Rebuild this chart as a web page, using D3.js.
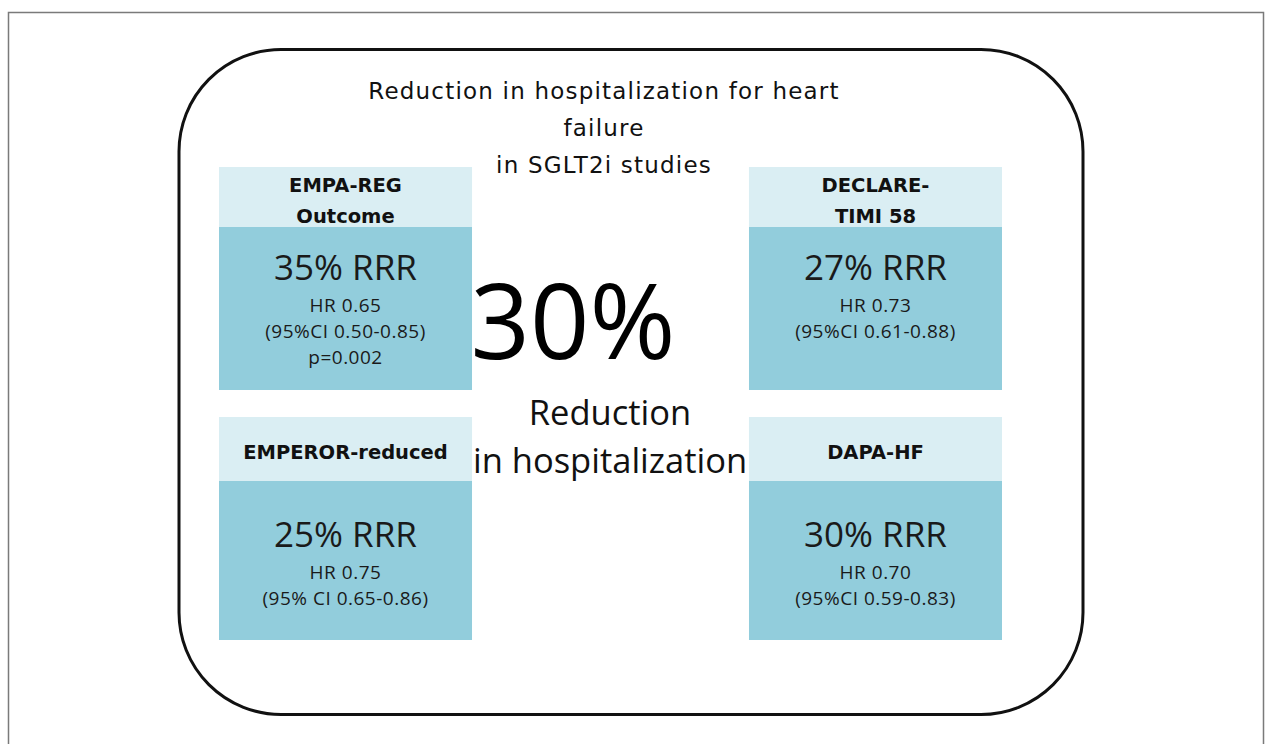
<!DOCTYPE html>
<html>
<head>
<meta charset="utf-8">
<script src="https://cdn.jsdelivr.net/npm/d3@7"></script>
<style>
html,body{margin:0;padding:0;background:#fff;}
svg{display:block;}
</style>
</head>
<body>
<svg id="chart" width="1269" height="744"></svg>
<script>
// ---- data ----
const titleLines = ["Reduction in hospitalization for heart", "failure", "in SGLT2i studies"];
const studyNames = [["EMPA-REG", "Outcome"], ["DECLARE-", "TIMI 58"], ["EMPEROR-reduced"], ["DAPA-HF"]];
const rrrValues = [35, 27, 25, 30];
const hrValues = ["0.65", "0.73", "0.75", "0.70"];
const ciValues = ["(95%CI 0.50-0.85)", "(95%CI 0.61-0.88)", "(95% CI 0.65-0.86)", "(95%CI 0.59-0.83)"];
const pValues = ["p=0.002", null, null, null];
const pooledReduction = 30;
const pooledLabel = ["Reduction", "in hospitalization"];

// ---- layout ----
const svg = d3.select("#chart");
const W = 1269, H = 744;

// outer gray frame (open at bottom)
svg.append("path")
  .attr("d", `M8.5,${H+2} L8.5,12.5 L1263.5,12.5 L1263.5,${H+2}`)
  .attr("fill", "none").attr("stroke", "#7a7a7a").attr("stroke-width", 1.5);

// rounded container
svg.append("rect")
  .attr("x", 179).attr("y", 49.5).attr("width", 904).attr("height", 665)
  .attr("rx", 102).attr("ry", 102)
  .attr("fill", "#fff").attr("stroke", "#111").attr("stroke-width", 3);

// title
const titleY = d3.scaleLinear().domain([0, 1]).range([99, 136]);
svg.append("g").selectAll("text").data(titleLines).join("text")
  .attr("x", 604).attr("y", (d, i) => titleY(i))
  .attr("text-anchor", "middle")
  .attr("font-family", "DejaVu Sans").attr("font-size", 23)
  .attr("letter-spacing", 1.2)
  .attr("fill", "#111").text(d => d);

// grid of study boxes
const idx = d3.range(studyNames.length);
const col = d3.scaleBand().domain([0, 1]).range([219, 1002]).paddingInner(0.5226);
const row = d3.scaleBand().domain([0, 1]).range([167, 640]).paddingInner(0.108);
const headerH = [60, 64];
const rrrOffset = [53, 66];

const boxes = svg.append("g").selectAll("g").data(idx).join("g")
  .attr("transform", i => `translate(${col(i % 2)},${row(Math.floor(i / 2))})`);

boxes.append("rect")
  .attr("width", col.bandwidth()).attr("height", row.bandwidth())
  .attr("fill", "#92cddc");
boxes.append("rect")
  .attr("width", col.bandwidth()).attr("height", i => headerH[Math.floor(i / 2)])
  .attr("fill", "#daeef3");

const cx = col.bandwidth() / 2;

boxes.each(function (i) {
  const g = d3.select(this);
  const lines = studyNames[i];
  const r = Math.floor(i / 2);
  const hh = headerH[r];
  const lh = 31;
  const first = hh / 2 + 10 - (lines.length - 1) * lh / 2;
  g.selectAll("text.h").data(lines).join("text").attr("class", "h")
    .attr("x", cx).attr("y", (d, k) => first + k * lh)
    .attr("text-anchor", "middle")
    .attr("font-family", "DejaVu Sans").attr("font-weight", "bold")
    .attr("font-size", 19.5).attr("fill", "#111").text(d => d);

  const body = [
    { t: rrrValues[i] + "% RRR", s: 35, dy: 0 },
    { t: "HR " + hrValues[i], s: 19, dy: 32 },
    { t: ciValues[i], s: 19, dy: 58 }
  ];
  if (pValues[i]) body.push({ t: pValues[i], s: 19, dy: 84 });
  const base = hh + rrrOffset[r];
  g.selectAll("text.b").data(body).join("text").attr("class", "b")
    .attr("x", cx).attr("y", d => base + d.dy)
    .attr("text-anchor", "middle")
    .attr("font-family", "Open Sans")
    .attr("font-size", d => d.s)
    .attr("letter-spacing", d => d.s < 25 ? 0.5 : 0)
    .attr("fill", "#1a1a1a").text(d => d.t);
});

// center big figure
svg.append("text")
  .attr("x", 573).attr("y", 359)
  .attr("text-anchor", "middle")
  .attr("font-family", "Open Sans").attr("font-size", 104)
  .attr("fill", "#000").text(pooledReduction + "%");

svg.append("g").selectAll("text").data(pooledLabel).join("text")
  .attr("x", 610).attr("y", (d, i) => 425 + i * 48)
  .attr("text-anchor", "middle")
  .attr("font-family", "Open Sans").attr("font-size", 34.5)
  .attr("fill", "#111").text(d => d);
</script>
</body>
</html>
